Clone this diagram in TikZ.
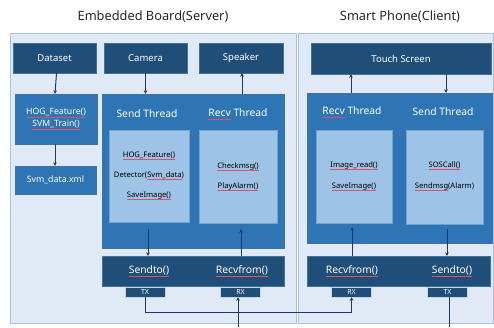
\documentclass[tikz,border=0pt]{standalone}
\usepackage{fontspec}
\setmainfont{Noto Sans}
\usetikzlibrary{arrows.meta}
\definecolor{navy}{HTML}{1F4E79}
\definecolor{midblue}{HTML}{2E75B6}
\definecolor{lightblue}{HTML}{9DC3E6}
\definecolor{panelfill}{HTML}{DFEAF6}
\definecolor{panelline}{HTML}{A8C3E3}
\definecolor{arrowcol}{HTML}{203864}
\definecolor{sqred}{HTML}{E0506A}
\definecolor{edge}{HTML}{41719C}
% thin red line under a word, drawn behind the word itself
\newlength\sqwidth
\newcommand\sq[1]{\settowidth\sqwidth{#1}\rlap{\color{sqred}\rule[-0.27em]{\sqwidth}{0.45pt}}#1}
\begin{document}
\begin{tikzpicture}[x=1pt,y=-1pt,
  panel/.style={fill=panelfill,draw=panelline,line width=0.8pt},
  darkbox/.style={fill=navy,draw=edge,line width=0.4pt,text=white,font=\fontsize{9.5}{11}\selectfont,inner sep=0pt},
  midbox/.style={fill=midblue,draw=edge,line width=0.4pt,text=white,inner sep=0pt},
  innerbox/.style={fill=lightblue,draw=edge!40!lightblue,line width=0.4pt,inner sep=0pt},
  port/.style={fill=navy,draw=white!75!navy,line width=0.5pt,text=white,font=\fontsize{7}{8}\selectfont,minimum width=40pt,minimum height=10pt,inner sep=0pt},
  lbl/.style={text=white,font=\fontsize{10.3}{12}\selectfont,inner sep=0pt},
  fn/.style={font=\bfseries\fontsize{7.6}{9}\selectfont,inner sep=0pt},
  title/.style={font=\fontsize{12.8}{14}\selectfont,text=black!85,inner sep=0pt},
  arr/.style={draw=arrowcol,line width=1pt,-{Stealth[length=3.5pt,width=3.5pt]}},
  wire/.style={draw=arrowcol,line width=1pt}]
\useasboundingbox (0,0) rectangle (494,327);

% the two device panels
\path[panel] (10,33) rectangle (296,323);
\path[panel] (298,33) rectangle (493.5,323);
\node[title] (tServer) at (153,17) {Embedded Board(Server)};
\node[title] (tClient) at (400,17) {Smart Phone(Client)};

% server: top row of devices
\node[darkbox,minimum width=83pt,minimum height=30pt] (dataset) at (54.5,58) {Dataset};
\node[darkbox,minimum width=83pt,minimum height=30pt] (camera) at (145.5,58) {Camera};
\node[darkbox,minimum width=84pt,minimum height=30pt] (speaker) at (241,58) {Speaker};

% server: training chain
\node[midbox,minimum width=82pt,minimum height=50pt,align=center,font=\fontsize{8.7}{12}\selectfont] (train) at (56,119) {\sq{HOG\_Feature()}\\\sq{SVM\_Train()}};
\node[midbox,minimum width=81pt,minimum height=28pt,font=\fontsize{8.8}{10}\selectfont] (svm) at (55.5,180) {Svm\_data.xml};

% server: threads
\node[midbox,minimum width=182pt,minimum height=154pt] (bigL) at (193,171) {};
\node[lbl] (sendThL) at (147,114) {Send Thread};
\node[lbl] (recvThL) at (238,114) {\sq{Recv} Thread};
\node[innerbox,minimum width=80pt,minimum height=92pt] (sendL) at (149,176) {};
\node[fn] (sL1) at (149,156) {\sq{HOG\_Feature()}};
\node[fn] (sL2) at (149,176) {Detector(\sq{Svm\_data})};
\node[fn] (sL3) at (149,196) {\sq{SaveImage()}};
\node[innerbox,minimum width=78pt,minimum height=93pt] (recvL) at (238,176.5) {};
\node[fn] (rL1) at (238,167) {\sq{Checkmsg()}};
\node[fn] (rL2) at (238,187) {\sq{PlayAlarm()}};

% server: socket bar
\node[darkbox,minimum width=182pt,minimum height=30pt] (barL) at (193,271) {};
\node[lbl] (sendtoL) at (149,271) {\sq{Sendto()}};
\node[lbl] (recvfromL) at (242,271) {\sq{Recvfrom()}};
\node[port] (txL) at (145,292) {TX};
\node[port] (rxL) at (240.5,292) {RX};

% client: touch screen
\node[darkbox,minimum width=180pt,minimum height=31pt] (touch) at (401,58.5) {Touch Screen};

% client: threads
\node[midbox,minimum width=185pt,minimum height=150pt] (bigR) at (399.5,168) {};
\node[lbl] (recvThR) at (352,112) {\sq{Recv} Thread};
\node[lbl] (sendThR) at (443,112) {Send Thread};
\node[innerbox,minimum width=76pt,minimum height=93pt] (recvR) at (354,176.5) {};
\node[fn] (rR1) at (354,166) {\sq{Image\_read()}};
\node[fn] (rR2) at (354,187) {\sq{SaveImage()}};
\node[innerbox,minimum width=77pt,minimum height=94pt] (sendR) at (444.5,177) {};
\node[fn] (sR1) at (444.5,166) {\sq{SOSCall()}};
\node[fn] (sR2) at (444.5,187) {\sq{Sendmsg}(Alarm)};

% client: socket bar
\node[darkbox,minimum width=183pt,minimum height=30pt] (barR) at (398.5,271) {};
\node[lbl] (recvfromR) at (352,271) {\sq{Recvfrom()}};
\node[lbl] (sendtoR) at (452,271) {\sq{Sendto()}};
\node[port] (rxR) at (351.5,292) {RX};
\node[port] (txR) at (447.5,292) {TX};

% server data flow
\draw[arr] (dataset.south -| train.north) ++(0.5,0) -- ([xshift=-1pt]train.north);
\draw[arr] ([xshift=-1pt]train.south) -- ([xshift=-0.5pt]svm.north);
\draw[arr] (camera.south) -- (camera.south |- bigL.north);
\draw[arr] (bigL.north -| speaker.south) ++(1,0) -- ([xshift=1pt]speaker.south);
\draw[arr] ([xshift=-1pt,yshift=-7pt]sendL.south) -- ([xshift=-1pt]sendL.south |- barL.north);
\draw[arr] (barL.north -| recvL.south) ++(3,0) -- ([xshift=3pt,yshift=-6pt]recvL.south);

% client data flow
\draw[arr] ([xshift=-50pt]touch.south |- bigR.north) -- ([xshift=-50pt]touch.south);
\draw[arr] ([xshift=45pt]touch.south) -- ([xshift=45pt]touch.south |- bigR.north);
\draw[arr] (barR.north -| recvR.south) ++(-2,0) -- ([xshift=-2pt,yshift=-4pt]recvR.south);
\draw[arr] ([xshift=2.5pt,yshift=-5pt]sendR.south) -- ([xshift=2.5pt]sendR.south |- barR.north);

% network links between the two devices
\coordinate (inL) at (238,327);
\coordinate (outR) at (449,327);
\draw[arr] (txL.south) -- ([yshift=-15pt]txL.south) -| (rxR.south);
\draw[arr] (inL) -- (inL |- rxL.south);
\draw[wire] (txR.south -| outR) -- (outR);
\end{tikzpicture}
\end{document}
